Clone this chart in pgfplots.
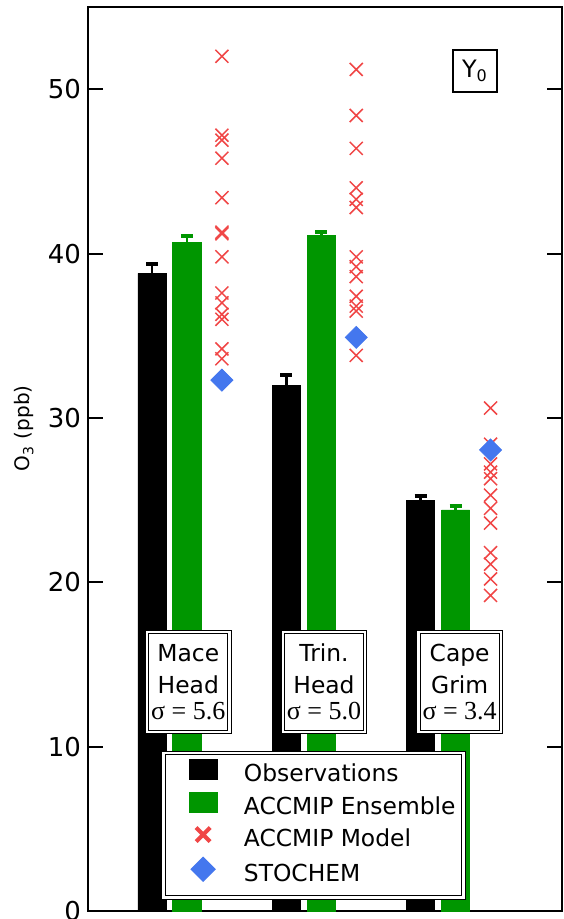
\documentclass[border=0pt]{standalone}
\usepackage{fontspec}
\setmainfont{DejaVu Sans}
\newfontfamily\serif{Liberation Serif}
\usepackage{pgfplots}
\pgfplotsset{compat=1.18}

\definecolor{enscol}{RGB}{0,150,0}
\definecolor{modred}{RGB}{240,70,70}
\definecolor{stochblue}{RGB}{68,119,238}

\tikzset{sitebox/.style={draw=black, double=white, double distance=1.2pt, line width=0.5pt,
  fill=white, align=center, inner sep=2pt, minimum width=41pt, minimum height=50pt,
  font=\fontsize{11.7}{16}\selectfont}}

\begin{document}
\begin{tikzpicture}
\useasboundingbox (-44pt,-4pt) rectangle (237.5pt,455.5pt);
\begin{axis}[
  scale only axis, width=237pt, height=452pt,
  xmin=-0.737, xmax=2.792, ymin=0, ymax=55,
  xtick=\empty,
  ytick={0,10,...,50},
  tick align=inside, ytick pos=both, yticklabel pos=left,
  major tick length=7.5pt,
  axis line style={line width=1pt},
  every tick/.style={line width=1pt, black},
  tick label style={font=\fontsize{13}{15}\selectfont},
  /pgf/number format/assume math mode=true,
  ylabel={O\textsubscript{3} (ppb)},
  ylabel style={font=\fontsize{10}{12}\selectfont, at={(ticklabel cs:0.534)}},
  clip=false,
  legend style={at={(rel axis cs:0.158,0.0144)}, anchor=south west,
    draw=black, double=white, double distance=1.2pt, line width=0.5pt, fill=white,
    font=\fontsize{11.7}{14}\selectfont,
    inner xsep=4pt, inner ysep=3pt, row sep=0pt, column sep=13pt,
    nodes={inner xsep=0pt, inner ysep=2.5pt, text height=8.7pt, text depth=2.5pt}},
  legend cell align=left,
]
% observed means with their standard errors
\addplot[ybar, bar width=0.21, bar shift=0pt, fill=black, draw=black,
  legend image code/.code={\path (0pt,0pt) (22.5pt,0pt);
    \fill[black] (8.5pt,-2pt) rectangle (22.5pt,8pt);},
  error bars/.cd, y dir=plus, y explicit,
  error bar style={line width=1.4pt, black},
  error mark=|,
  error mark options={line width=2pt, mark size=3pt, black}]
  coordinates {(-0.26,38.8) +- (0,0.55) (0.74,32.0) +- (0,0.6) (1.74,25.0) +- (0,0.25)};
\addlegendentry{Observations}
% ensemble means
\addplot[ybar, bar width=0.21, bar shift=0pt, fill=enscol, draw=enscol,
  legend image code/.code={\path (0pt,0pt) (22.5pt,0pt);
    \fill[enscol] (8.5pt,-2pt) rectangle (22.5pt,8pt);},
  error bars/.cd, y dir=plus, y explicit,
  error bar style={line width=1.4pt, enscol},
  error mark=|,
  error mark options={line width=2pt, mark size=3pt, enscol}]
  coordinates {(0,40.7) +- (0,0.35) (1,41.1) +- (0,0.2) (2,24.4) +- (0,0.25)};
\addlegendentry{ACCMIP Ensemble}
% individual models
\addplot[only marks, mark=x, mark size=4.6pt, modred, line width=0.75pt,
  legend image code/.code={\path (0pt,0pt) (22.5pt,0pt);
    \draw[modred, line width=2pt] (12pt,-0.5pt) -- (19pt,6.5pt) (12pt,6.5pt) -- (19pt,-0.5pt);}]
  coordinates {
  (0.26,52.0) (0.26,47.2) (0.26,46.9) (0.26,45.8) (0.26,43.4) (0.26,41.3) (0.26,41.2)
  (0.26,39.8) (0.26,37.6) (0.26,37.0) (0.26,36.3) (0.26,36.0) (0.26,34.2) (0.26,33.6)
  (1.26,51.2) (1.26,48.4) (1.26,46.4) (1.26,44.0) (1.26,43.3) (1.26,42.8) (1.26,39.8)
  (1.26,39.2) (1.26,38.6) (1.26,37.4) (1.26,36.8) (1.26,36.5) (1.26,33.8)
  (2.26,30.6) (2.26,28.4) (2.26,27.2) (2.26,26.7) (2.26,26.3) (2.26,25.3) (2.26,24.5)
  (2.26,23.6) (2.26,21.8) (2.26,21.1) (2.26,20.2) (2.26,19.2)};
\addlegendentry{ACCMIP Model}
% STOCHEM
\addplot[only marks, mark=square*, mark size=3.9pt,
  mark options={rotate=45, fill=stochblue, draw=stochblue},
  legend image code/.code={\path (0pt,0pt) (22.5pt,0pt);
    \fill[stochblue] (15.5pt,-3pt) -- (21.5pt,3pt) -- (15.5pt,9pt) -- (9.5pt,3pt) -- cycle;}]
  coordinates {(0.26,32.3) (1.26,34.9) (2.26,28.05)};
\addlegendentry{STOCHEM}

\node[sitebox] at (axis cs:0.01,13.93) {Mace\\Head\\[-3pt]{\serif\fontsize{13}{13}\selectfont σ = 5.6}};
\node[sitebox] at (axis cs:1.02,13.93) {Trin.\\Head\\[-3pt]{\serif\fontsize{13}{13}\selectfont σ = 5.0}};
\node[sitebox] at (axis cs:2.03,13.93) {Cape\\Grim\\[-3pt]{\serif\fontsize{13}{13}\selectfont σ = 3.4}};

\node[draw=black, line width=0.6pt, fill=white, font=\fontsize{12}{14}\selectfont,
  inner sep=2pt, minimum width=22pt, minimum height=21pt] at (axis cs:2.144,51.1) {Y\textsubscript{0}};
\end{axis}
\end{tikzpicture}
\end{document}
